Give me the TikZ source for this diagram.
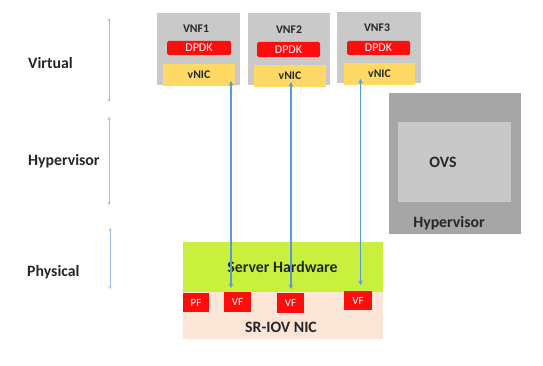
\documentclass[tikz,border=0pt]{standalone}
\usepackage{fontspec}
\setmainfont{Carlito}
\usetikzlibrary{arrows.meta}
\definecolor{vnfgray}{HTML}{C9C9C9}
\definecolor{hvdark}{HTML}{A6A6A6}
\definecolor{hvlight}{HTML}{C8C8C8}
\definecolor{dpdkred}{HTML}{FF0D0D}
\definecolor{nicyellow}{HTML}{FFD966}
\definecolor{hwgreen}{HTML}{C8F03C}
\definecolor{nicpink}{HTML}{FBE5D6}
\definecolor{linkblue}{HTML}{5B9BD5}
\definecolor{txt}{HTML}{262626}
\tikzset{
  box/.style={rectangle, inner sep=0pt, outer sep=0pt},
  lbl/.style={inner sep=0pt, text=txt, font=\bfseries\fontsize{15.8}{18}\selectfont},
  small/.style={inner sep=0pt, text=txt, font=\bfseries\fontsize{11.7}{14}\selectfont},
  redtxt/.style={text=white, font=\fontsize{12}{14}\selectfont},
  vftxt/.style={text=white, font=\fontsize{11}{12}\selectfont},
  link/.style={draw=linkblue, line width=1.1pt, {Stealth[length=4.5pt,width=4.5pt]}-{Stealth[length=4.5pt,width=4.5pt]}},
  layer/.style={draw=linkblue!60, line width=0.6pt, {Stealth[length=3pt,width=3pt]}-{Stealth[length=3pt,width=3pt]}}
}
\begin{document}
\begin{tikzpicture}[x=1pt,y=-1pt]
\useasboundingbox[fill=white] (0,0) rectangle (543,366);
% VNF boxes
\node[box, fill=vnfgray, minimum width=83, minimum height=72] (vnf1) at (198.5,49) {};
\node[box, fill=vnfgray, minimum width=82, minimum height=72] (vnf2) at (289,49) {};
\node[box, fill=vnfgray, minimum width=84, minimum height=71] (vnf3) at (379,47.5) {};
\node[small] (t1) at (196,29) {VNF1};
\node[small] (t2) at (289,30) {VNF2};
\node[small] (t3) at (377,28) {VNF3};
\node[box, fill=dpdkred, rounded corners=1.5pt, minimum width=64, minimum height=14, redtxt] (d1) at (199,48) {DPDK};
\node[box, fill=dpdkred, rounded corners=1.5pt, minimum width=63, minimum height=15, redtxt] (d2) at (288.5,49.5) {DPDK};
\node[box, fill=dpdkred, rounded corners=1.5pt, minimum width=63, minimum height=14, redtxt] (d3) at (378.5,48) {DPDK};
\node[box, fill=nicyellow, minimum width=72, minimum height=22, small] (n1) at (199,75) {vNIC};
\node[box, fill=nicyellow, minimum width=72, minimum height=22, small] (n2) at (290,76) {vNIC};
\node[box, fill=nicyellow, minimum width=71, minimum height=22, small] (n3) at (379.5,74) {vNIC};
% Hypervisor box
\node[box, fill=hvdark, minimum width=132, minimum height=141] (hv) at (455,163.5) {};
\node[box, fill=hvlight, minimum width=113, minimum height=80] (ovs) at (454.5,162) {};
\node[lbl] (ovst) at (443,162) {OVS};
\node[lbl] (hvt) at (449,223) {Hypervisor};
% hardware
\node[box, fill=hwgreen, minimum width=200, minimum height=50] (hw) at (283,267) {};
\node[box, fill=nicpink, minimum width=200, minimum height=47] (nic) at (283,315.5) {};
\node[lbl] (hwt) at (282.5,267) {Server Hardware};
\node[lbl] (nict) at (281,327) {SR-IOV NIC};
\node[box, fill=dpdkred, minimum width=26, minimum height=19, vftxt] (pf) at (196,302.5) {PF};
\node[box, fill=dpdkred, minimum width=27, minimum height=20, vftxt] (vf1) at (237.5,302) {VF};
\node[box, fill=dpdkred, minimum width=27, minimum height=20, vftxt] (vf2) at (290.5,303) {VF};
\node[box, fill=dpdkred, minimum width=28, minimum height=19, vftxt] (vf3) at (358,300.5) {VF};
% links
\coordinate (a1) at (231,0);
\coordinate (a2) at (291,0);
\coordinate (a3) at (360.5,0);
\draw[link, shorten <=-5pt, shorten >=4pt] (a1 |- n1.south) -- (a1 |- vf1.north);
\draw[link, shorten <=-5pt, shorten >=4pt] (a2 |- n2.south) -- (a2 |- vf2.north);
\draw[link, shorten <=-6pt, shorten >=6pt] (a3 |- n3.south) -- (a3 |- vf3.north);
% layer labels
\node[lbl, anchor=west] (lv) at (28,63) {Virtual};
\node[lbl, anchor=west] (lh) at (28,161) {Hypervisor};
\node[lbl, anchor=west] (lp) at (27,272) {Physical};
\coordinate (v1) at (109,18);
\coordinate (v2) at (109,102);
\coordinate (h1) at (109,117);
\coordinate (h2) at (109,205);
\coordinate (p1) at (110,228);
\coordinate (p2) at (110,289);
\draw[layer] (v1) -- (v2);
\draw[layer] (h1) -- (h2);
\draw[layer] (p1) -- (p2);
\end{tikzpicture}
\end{document}
